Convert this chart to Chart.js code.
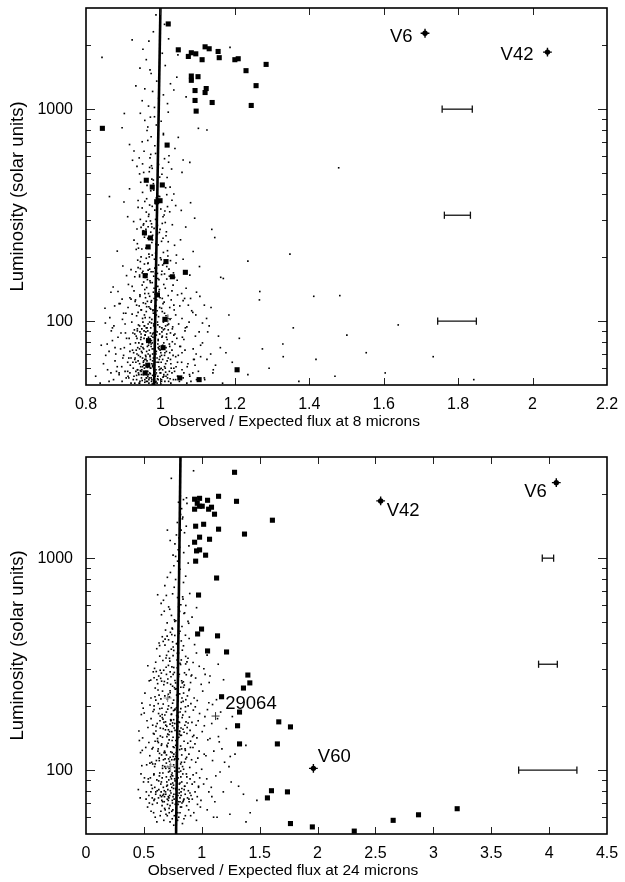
<!DOCTYPE html>
<html><head><meta charset="utf-8">
<script src="https://cdn.jsdelivr.net/npm/chart.js@4.4.1/dist/chart.umd.min.js"></script>
<style>
html,body{margin:0;padding:0;background:#fff;}
#wrap{position:relative;width:625px;height:882px;overflow:hidden;background:#fff;}
canvas{position:absolute;left:0;}
</style></head><body>
<div id="wrap">
<canvas id="c1" width="625" height="441" style="top:0px"></canvas>
<canvas id="c2" width="625" height="441" style="top:449px"></canvas>
</div>
<script>
// ================= DATA : 8 micron panel =================
const xTicks8 = [0.8,1.0,1.2,1.4,1.6,1.8,2.0,2.2];
const yTickLabels = [100,1000];
const yMinorTicks = [60,70,80,90,200,300,400,500,600,700,800,900,2000];
// fitted relation (flux ratio, luminosity)
const fit8X = [0.983,1.000];
const fit8L = [50,3000];
// named / highlighted stars
const stars8Name = ['V6','V42'];
const stars8X = [1.711,2.040];
const stars8L = [2280,1858];
// representative error bars
const err8L  = [1000,316,100];
const err8Lo = [1.757,1.763,1.745];
const err8Hi = [1.838,1.833,1.849];
// other markers
const plus8 = [[1.020,103]];
// filled squares (ratio, luminosity)
const squares8 = [
[1.021,2523],[1.048,1905],[1.083,1845],[1.095,1824],[1.075,1773],[1.120,1968],[1.131,1927],[1.155,1871],
[1.112,1711],[1.158,1749],[1.200,1711],[1.209,1729],[1.284,1626],[1.230,1519],[1.257,1291],[1.083,1433],
[1.083,1368],[1.101,1423],[1.123,1251],[1.120,1198],[1.093,1224],[1.093,1099],[1.139,1075],[1.244,1041],
[1.096,979],[0.844,812],[1.018,677],[0.962,462],[0.978,429],[1.005,439],[0.990,366],[0.999,370],
[0.957,261],[0.973,247],[0.967,224],[1.015,191],[0.959,164],[1.032,162],[1.067,170],[0.992,133],
[1.012,102],[0.968,81],[1.007,75],[0.966,62],[0.959,57],[1.206,59],[1.052,54],[1.104,53]
];
// small dots: comparison sample (ratio, luminosity)
const dots8 = [
[0.931,51],[0.987,56],[0.874,53],[1.013,60],[0.962,52],[1.046,55],[0.905,58],[0.978,50.5],[0.996,61],[0.949,54],
[1.071,51],[0.918,57],[0.984,53],[1.024,58],[0.957,60],[0.826,55],[1.003,52],[0.971,57],[0.939,59],[1.118,54],
[0.991,51],[0.966,55],[1.035,53],[0.897,52],[0.952,61],[1.009,56],[0.982,59],[0.944,51],[1.058,59],[0.975,54],
[0.913,55],[0.999,57],[1.167,51],[0.961,58],[1.019,54],[0.988,52],[0.927,60],[1.087,57],[0.969,51],[0.858,59],
[1.042,61],[0.954,56],[0.993,55],[0.936,53],[1.006,59],[1.235,56],[0.979,61],[0.948,58],[1.028,51],[0.889,57],
[0.973,60],[1.097,53],[0.958,53],[1.015,55],[0.985,58],[0.921,51],[1.061,54],[1.372,52],[0.994,53],[0.942,56],
[1.031,57],[0.968,56],[1.142,59],[0.908,54],[1.001,50.6],[0.976,52],[1.604,57],[0.950,59],[1.051,52],[0.986,55],
[1.292,60],[0.963,54],[1.842,53],[1.022,52],[0.934,58],[0.997,59],[1.469,55],[0.981,50.8],[1.078,56],[0.945,52],
[0.944,63],[0.991,67],[0.862,72],[1.018,65],[0.967,70],[1.052,76],[0.912,64],[0.983,74],[1.003,69],[0.951,78],
[1.089,66],[0.928,71],[0.977,63],[1.031,73],[0.958,66],[0.841,77],[1.009,79],[0.972,68],[0.939,75],[1.135,70],
[0.995,64],[0.963,72],[1.041,68],[0.901,69],[0.954,64],[1.012,71],[0.986,77],[0.946,68],[1.066,73],[0.979,65],
[0.919,78],[0.999,73],[1.193,64],[0.965,76],[1.025,76],[0.988,70],[0.931,66],[1.108,77],[0.969,79],[0.878,65],
[1.046,64],[0.955,74],[0.993,78],[0.937,70],[1.006,66],[1.274,74],[0.981,67],[0.949,72],[1.034,69],[0.893,74],
[0.975,76],[1.074,63],[0.960,69],[1.015,75],[0.984,62],[0.925,73],[1.058,71],[1.418,66],[0.997,76],[0.942,79],
[1.028,63],[0.970,73],[1.161,75],[0.915,67],[1.002,64],[0.978,79],[1.553,71],[0.952,67],[1.039,78],[0.989,72],
[1.329,78],[0.964,65],[1.733,68],[1.021,67],[0.934,64],
[0.947,82],[0.989,86],[0.871,93],[1.016,84],[0.966,90],[1.049,97],[0.916,83],[0.982,95],[1.004,89],[0.953,99],
[1.094,85],[0.930,91],[0.976,81],[1.033,94],[0.959,86],[0.852,98],[1.011,92],[0.973,88],[0.941,96],[1.127,89],
[0.994,82],[0.962,93],[1.039,87],[0.906,88],[0.956,83],[1.008,91],[0.985,98],[0.948,87],[1.071,94],[0.980,84],
[0.923,99],[0.998,94],[1.212,83],[0.967,97],[1.022,97],[0.987,90],[0.935,85],[1.113,98],[0.970,81],[0.886,84],
[1.044,83],[0.957,95],[0.992,99],[0.938,90],[1.005,85],[1.357,93],[0.979,87],[0.950,92],[1.027,88],[1.639,96],
[0.974,93],[1.063,82],[0.961,89],[1.501,86],[1.014,95],
[0.952,103],[0.991,112],[0.889,121],[1.015,106],[0.969,117],[1.046,133],[0.924,108],[0.983,128],[1.003,115],[0.958,141],
[1.087,110],[0.936,119],[0.977,102],[1.029,126],[0.962,111],[0.867,137],[1.010,123],[0.974,114],[0.945,131],[1.118,119],
[0.995,105],[0.965,124],[1.037,113],[0.913,116],[0.957,107],[1.007,121],[0.986,134],[0.949,113],[1.065,128],[0.981,109],
[0.929,139],[0.999,129],[1.184,107],[0.968,135],[1.021,132],[0.988,118],[0.940,110],[1.097,137],[0.971,104],[0.901,109],
[1.041,107],[0.960,129],[0.993,146],[0.943,118],[1.005,111],[1.266,126],[0.980,113],[0.954,122],[1.025,116],[0.897,127],
[0.976,125],[1.058,103],[0.963,117],[1.013,143],[0.985,101],[0.933,126],[1.052,118],[1.412,131],[0.996,138],[1.034,148],
[0.955,153],[0.992,168],[0.899,182],[1.017,158],[0.971,176],[1.043,205],[0.931,162],[0.984,196],[1.004,172],[0.961,221],
[1.079,165],[0.940,179],[0.978,152],[1.027,193],[0.964,166],[0.884,214],[1.009,187],[0.975,171],[0.948,201],[1.105,181],
[0.996,157],[0.967,188],[1.035,169],[0.921,175],[0.959,161],[1.006,184],[0.987,209],[0.951,169],[1.061,196],[0.982,163],
[0.935,218],[1.000,199],[1.162,161],[0.969,207],[1.020,203],[0.989,178],[0.944,165],[1.088,213],[0.972,155],[0.909,164],
[1.038,161],[0.962,198],[0.994,229],[0.946,177],[1.011,167],[1.235,192],[0.980,171],[0.957,186],[1.023,176],[1.348,207],
[0.977,235],[1.054,242],[0.966,246],[1.003,238],[0.938,232],
[0.958,256],[0.992,283],[0.912,311],[1.016,264],[0.973,297],[1.041,351],[0.937,272],[0.985,334],[1.005,289],[0.963,378],
[1.068,278],[0.946,302],[0.979,254],[1.025,328],[0.967,279],[0.902,365],[1.010,317],[0.976,288],[0.951,342],[1.092,306],
[0.997,262],[0.969,319],[1.032,285],[0.928,295],[0.961,271],[1.007,311],[0.988,358],[0.954,284],[1.056,333],[0.983,274],
[0.940,371],[1.001,338],[1.138,271],[0.971,353],[1.019,347],[0.990,302],[0.948,277],[1.081,362],[0.974,412],[0.917,421],
[1.036,398],[0.964,437],[0.995,389],[1.014,426],[0.981,445],
[0.963,458],[0.993,512],[0.925,574],[1.018,476],[0.976,541],[1.039,652],[0.944,495],[0.987,618],[1.006,527],[0.966,712],
[1.058,503],[0.952,552],[0.981,463],[1.023,603],[0.970,507],[0.917,681],[1.011,584],[0.978,526],[0.956,633],[1.079,561],
[0.998,478],[0.972,589],[1.030,522],[0.937,537],[0.964,793],[1.008,768],[0.989,842],[0.958,885],[1.048,736],[0.984,921],
[0.946,956],[1.002,877],[1.102,812],[0.975,741],[1.021,968],
[0.968,1034],[0.995,1124],[0.934,1287],[1.019,1062],[0.979,1212],[1.044,1415],[0.951,1096],[0.990,1356],[1.008,1168],[0.972,1532],
[1.069,1143],[0.958,1247],[0.984,1019],[1.027,1318],[0.975,1473],[1.013,1606],[0.962,1712],[1.036,1231],[1.005,1835],[0.945,1562],
[1.087,1376],[0.999,1967],[1.022,2146],[0.981,2318],[1.114,1689],[0.953,1918],[1.011,2512],[0.988,2785],[1.047,1802],[0.969,2093],
[0.924,2123],[0.843,1755],[1.187,1955],[1.479,529],[1.125,797],[0.897,817],[0.903,954],[1.061,576],[0.929,635],[0.863,387],
[1.482,132],[1.267,138],[1.146,248],[1.169,159],[1.330,68],
[0.958,57],[0.983,63],[0.941,69],[1.012,52],[0.972,81],[0.996,74],[0.929,55],[1.027,66],[0.964,93],[0.988,59],
[0.951,71],[1.004,84],[0.977,53],[0.919,62],[1.038,58],[0.968,77],[0.993,96],[0.943,51],[1.016,72],[0.981,88],
[0.955,65],[1.009,55],[0.974,60],[0.937,83],[0.999,68],[0.962,54],[1.021,91],[0.986,79],[0.947,61],[1.048,69],
[0.971,99],[0.953,75],[1.001,57],[0.979,70],[0.926,88],[1.032,80],[0.966,58],[0.991,64],[0.944,95],[1.011,61],
[0.959,86],[0.984,51],[0.935,73],[1.019,96],[0.973,66],[0.998,87],[0.949,56],[1.006,77],[0.969,62],[0.921,67],
[1.041,53],[0.987,72],[0.956,90],[1.002,60],[0.976,85],[0.938,59],[1.025,71],[0.965,52],[0.994,81],[0.952,78],
[0.982,97],[1.014,63],[0.945,89],[0.970,54],[1.036,86],[0.961,68],[0.989,57],[0.933,79],[1.008,99],[0.978,74],
[0.957,62],[1.003,53],[0.972,69],[0.940,65],[1.018,82],[0.985,92],[0.963,56],[0.997,66],[0.948,84],[1.029,60],
[0.912,58],[1.057,64],[0.903,75],[1.066,90],[0.896,61],[1.079,55],[0.880,70],[1.093,62],[0.867,57],[1.108,68],
[0.959,104],[0.986,118],[0.945,133],[1.011,109],[0.973,152],[0.997,141],[0.932,124],[1.024,163],[0.966,187],[0.989,107],
[0.953,172],[1.005,128],[0.978,205],[0.924,146],[1.036,119],[0.969,226],[0.993,159],[0.948,113],[1.017,181],[0.981,137],
[0.957,249],[1.008,211],[0.975,123],[0.939,194],[0.999,271],[0.963,144],[1.021,237],[0.987,168],[0.950,219],[1.045,156],
[0.971,131],[0.955,288],[1.002,195],[0.980,112],[0.929,241],[1.031,139],[0.967,174],[0.992,258],[0.944,162],[1.013,292],
[0.960,121],[0.985,178],[0.936,106],[1.019,215],[0.974,263],[0.998,116],[0.951,148],[1.007,246],[0.970,201],[0.918,129],
[1.042,188],[0.988,231],[0.958,135],[1.003,166],[0.977,278],[0.941,221],[1.026,102],[0.965,157],[0.995,184],[0.954,267],
[0.983,143],[1.015,253],[0.946,191],[0.972,115],[1.038,228],[0.962,296],[0.990,126],[0.934,171],[1.009,149],[0.979,242],
[0.968,312],[0.991,356],[0.952,405],[1.012,331],[0.977,468],[0.998,387],[0.940,344],[1.026,429],[0.971,531],[0.987,302],
[0.958,367],[1.004,493],[0.982,415],[0.947,452],[1.031,372],[0.974,612],[0.995,548],[0.962,327],[1.017,395],[0.985,672],
[0.955,503],[1.008,757],[0.978,348],[0.943,589],[1.001,436],[0.966,824],[1.022,562],[0.989,381],[0.951,702],[0.973,917],
[0.862,52],[1.102,58],[0.884,61],[1.125,66],[0.853,69],[1.088,74],[0.871,81],[1.141,57],[0.894,88],[1.067,93],
[0.847,63],[1.113,79],[0.905,97],[1.082,52],[0.878,75],[1.156,85],[0.915,54],[1.072,61],[0.868,90],[1.096,70],
[0.889,56],[1.131,95],[0.899,67],[1.059,84],[0.857,78],[1.119,53],[0.926,64],[1.077,99],[0.882,58],[1.104,89],
[0.918,72],[1.063,57],[0.875,95],[1.148,62],[0.909,83],[1.091,66],[0.838,51],[1.054,76],[0.931,87],[1.176,71],
[0.864,104],[1.084,112],[0.892,121],[1.106,131],[0.877,118],[1.069,143],[0.907,109],[1.124,103],[0.886,138],[1.061,125],
[0.851,115],[1.095,107],[0.921,127],[1.075,119],[0.873,145],[1.136,116],[0.898,102],[1.057,135],[0.914,149],[1.081,128],
[0.951,52.5],[0.973,56.5],[0.992,53.5],[1.014,57.5],[0.936,55.5],[0.965,60.5],[0.987,51.5],[1.007,54.5],[0.946,58.5],[0.979,55.5],
[1.026,53.5],[0.958,51.5],[0.999,59.5],[0.969,53],[0.941,57],[1.019,56],[0.982,60],[0.955,62],[1.036,60],[0.927,53],
[0.961,66],[0.985,64],[1.001,71],[0.944,74],[0.975,78],[1.011,69],[0.932,67],[0.968,84],[0.991,89],[1.024,78],
[0.957,95],[0.979,62],[1.004,93],[0.948,76],[0.976,98],[1.032,92],[0.938,92],[0.963,81],[0.994,75],[1.017,87]
];

// ================= DATA : 24 micron panel =================
const xTicks24 = [0,0.5,1,1.5,2,2.5,3,3.5,4,4.5];
const fit24X = [0.778,0.816];
const fit24L = [50,3000];
const stars24Name = ['V6','V42','V60'];
const stars24X = [4.062,2.545,1.964];
const stars24L = [2270,1862,102];
const err24L  = [1000,316,100];
const err24Lo = [3.941,3.909,3.737];
const err24Hi = [4.039,4.071,4.240];
const plus24Name = ['29064'];
const plus24 = [[1.119,180]];
const plusGrey24 = [[0.705,219],[0.731,104]];
const squares24 = [
[1.283,2541],[1.145,1958],[1.300,1854],[0.938,1897],[0.981,1915],[0.961,1815],[1.050,1875],[0.938,1702],
[0.981,1758],[1.004,1758],[1.084,1739],[1.059,1702],[1.110,1612],[1.610,1510],[0.947,1415],[1.016,1445],
[1.145,1370],[1.369,1299],[0.981,1256],[1.067,1228],[0.938,1189],[0.955,1082],[0.981,1094],[1.033,1033],
[0.947,968],[1.128,806],[0.972,670],[0.998,463],[0.964,439],[1.136,430],[1.050,365],[1.214,361],
[1.398,281],[1.415,258],[1.360,244],[1.171,222],[1.326,188],[1.665,169],[1.766,160],[1.309,162],
[1.326,133],[1.653,133],[1.602,80],[1.567,74],[1.740,79],[1.766,56],[1.955,54],
[2.317,51.6],[2.653,58],[2.872,61.6],[3.206,65.8]
];
const dots24 = [
[0.612,57],[0.745,59],[0.833,56],[0.691,62],[0.904,61],[0.562,64],[0.778,66],[0.954,58],[0.657,68],[0.812,63],
[0.726,57],[1.047,65],[0.598,60],[0.869,68],[0.763,61],[0.684,65],[0.931,63],[0.795,69],[0.532,67],[0.719,63],
[1.132,60],[0.846,59],[0.641,61],[0.988,67],[0.758,55],[1.243,62],[0.704,69],[0.887,65],[0.672,58],[0.801,60],
[1.382,57],[0.574,69],[0.825,67],[0.741,64],[0.963,69],
[0.587,72],[0.734,78],[0.812,74],[0.668,83],[0.891,71],[0.543,76],[0.769,89],[0.942,79],[0.626,74],[0.805,81],
[0.711,72],[1.016,86],[0.573,82],[0.857,77],[0.752,75],[0.649,79],[0.918,73],[0.786,94],[0.497,88],[0.703,85],
[1.087,75],[0.838,71],[0.612,90],[0.972,83],[0.747,70],[1.186,79],[0.689,77],[0.873,87],[0.655,72],[0.794,76],
[1.318,84],[0.561,79],[0.819,93],[0.728,80],[0.953,97],[0.452,81],[0.678,75],[0.761,73],[0.884,80],[0.602,77],
[0.738,91],[0.829,70],[0.646,86],[0.907,76],[0.519,73],[0.774,82],[0.993,72],[0.694,93],[0.851,84],[0.586,95],
[0.716,74],[1.043,91],[0.629,81],[0.799,71],[0.867,96],[0.663,76],[0.937,88],[0.756,85],[0.538,91],[0.713,98],
[1.121,94],[0.821,79],[0.592,73],[0.778,77],[0.899,91],[0.637,97],[1.476,72],[0.749,94],[0.812,87],[0.676,71],
[0.961,75],[0.565,85],[0.803,98],[0.722,76],[0.846,73],[0.615,80],[1.254,88],[0.784,72],[0.698,88],[0.925,95],
[0.475,96],[0.741,83],[1.061,79],[0.658,92],[0.877,74],[0.768,99],[0.547,70],[0.828,82],[0.707,81],[0.982,92],
[0.593,104],[0.741,112],[0.818,107],[0.674,121],[0.896,103],[0.551,117],[0.775,131],[0.948,109],[0.632,114],[0.809,125],
[0.718,102],[1.021,119],[0.579,128],[0.861,113],[0.757,106],[0.653,118],[0.924,128],[0.791,141],[0.486,124],[0.709,134],
[1.093,111],[0.843,101],[0.618,137],[0.977,123],[0.753,116],[1.174,126],[0.694,108],[0.879,134],[0.662,105],[0.797,113],
[1.287,119],[0.567,109],[0.824,146],[0.732,122],[0.958,142],[0.461,138],[0.683,113],[0.765,103],[0.889,119],[0.608,111],
[0.744,138],[0.834,104],[0.651,131],[0.912,112],[0.524,106],[0.779,121],[0.999,101],[0.699,144],[0.856,126],[0.589,148],
[0.721,110],[1.052,139],[0.635,120],[0.804,102],[0.872,149],[0.669,112],[0.941,133],[0.761,128],[0.543,135],[0.716,147],
[1.144,144],[0.827,118],[0.598,107],[0.783,115],[0.903,137],[0.642,145],[1.381,131],[0.752,143],[0.817,130],[0.681,104],
[0.966,114],[0.571,126],[0.806,148],[0.727,115],[0.851,109],[0.621,123],[1.235,104],[0.788,107],[0.702,129],[0.931,146],
[0.604,153],[0.748,167],[0.821,158],[0.681,182],[0.899,154],[0.562,175],[0.781,197],[0.951,163],[0.639,171],[0.813,188],
[0.722,152],[1.027,179],[0.588,193],[0.864,169],[0.761,158],[0.659,177],[0.927,192],[0.795,212],[0.503,186],[0.713,201],
[1.086,166],[0.847,151],[0.624,206],[0.981,185],[0.757,173],[1.163,188],[0.698,161],[0.882,201],[0.667,157],[0.801,169],
[1.264,179],[0.576,163],[0.829,219],[0.737,183],[0.961,213],[0.483,207],[0.687,169],[0.769,154],[0.893,178],[0.615,166],
[0.748,207],[0.838,156],[0.656,196],[0.915,168],[0.535,159],[0.783,181],[1.004,152],[0.703,216],[0.859,189],[0.596,222],
[0.726,165],[1.061,208],[0.641,180],[0.808,153],[0.876,224],[0.673,168],[0.944,199],[0.765,192],[0.553,203],[0.719,221],
[1.127,215],[0.831,177],[0.605,161],[0.787,172],[0.906,206],[0.647,217],[0.757,214],[0.819,195],[0.686,155],[0.969,171],
[0.579,189],[0.809,229],[0.731,173],[0.854,163],[0.627,185],[1.212,157],[0.792,161],[0.706,194],[0.934,219],[0.771,241],
[0.661,236],[0.842,246],[0.727,232],[0.889,238],[0.598,244],
[0.619,256],[0.753,283],[0.826,264],[0.692,306],[0.903,259],[0.581,291],[0.786,331],[0.947,272],[0.651,287],[0.817,315],
[0.731,254],[1.018,301],[0.602,323],[0.866,282],[0.768,265],[0.671,296],[0.925,322],[0.799,357],[0.534,311],[0.721,337],
[1.071,278],[0.849,252],[0.637,345],[0.978,309],[0.763,289],[1.142,316],[0.707,269],[0.881,337],[0.677,262],[0.806,283],
[0.588,273],[0.832,368],[0.742,307],[0.954,357],[0.695,283],[0.774,258],[0.891,298],[0.628,278],[0.752,347],[0.841,261],
[0.664,329],[0.913,281],[0.559,266],[0.788,304],[0.995,254],[0.712,363],[0.861,317],[0.611,374],[0.734,276],[1.046,349],
[0.786,395],[0.713,412],[0.842,386],[0.659,426],[0.804,441],[0.748,403],[0.891,418],[0.682,389],[0.767,432],[0.823,407],
[0.631,398],[0.938,391],[0.729,447],[0.859,433],
[0.687,458],[0.764,512],[0.829,476],[0.723,574],[0.881,503],[0.652,541],[0.791,652],[0.916,527],[0.701,495],[0.819,603],
[0.747,463],[0.955,584],[0.669,633],[0.852,552],[0.776,507],[0.714,589],[0.896,681],[0.803,712],[0.738,537],[0.842,768],
[0.681,742],[0.774,793],[0.861,822],[0.729,856],[0.812,887],[0.759,921],[0.703,812],[0.883,948],[0.791,968],[0.838,641],
[0.748,679],[0.809,561],[0.762,729],[0.862,598],[0.694,667],
[0.752,1034],[0.809,1124],[0.781,1287],[0.844,1062],[0.727,1212],[0.866,1415],[0.796,1096],[0.821,1356],[0.768,1168],[0.833,1532],
[0.889,1143],[0.803,1247],[0.774,1019],[0.851,1318],[0.789,1473],[0.817,1606],[0.826,1712],[0.872,1812],[0.799,1835],[0.836,1562],
[0.815,1967],[0.868,1926],[0.842,1889],[0.811,2112],[0.703,1356],
[0.929,2583],[0.737,2379],[1.188,267],[1.246,116],[1.360,77],[1.418,63],[1.102,60],[0.972,84],
[0.702,73],[0.776,81],[0.651,88],[0.821,76],[0.739,95],[0.615,70],[0.854,84],[0.687,79],[0.795,92],[0.572,74],
[0.733,86],[0.898,78],[0.664,97],[0.812,71],[0.756,82],[0.628,89],[0.871,93],[0.711,75],[0.789,87],[0.594,83],
[0.745,72],[0.836,96],[0.676,80],[0.766,91],[0.642,76],[0.917,86],[0.723,99],[0.805,78],[0.556,92],[0.781,74],
[0.697,84],[0.848,81],[0.634,94],[0.759,77],[0.889,73],[0.715,90],[0.662,71],[0.827,88],[0.744,97],[0.603,79],
[0.679,66],[0.793,63],[0.726,68],[0.858,61],[0.647,64],[0.771,69],[0.702,61],[0.816,67],[0.584,63],[0.750,65],
[0.705,104],[0.781,118],[0.654,133],[0.824,109],[0.741,152],[0.618,141],[0.858,124],[0.689,163],[0.798,187],[0.576,107],
[0.736,172],[0.902,128],[0.667,205],[0.815,146],[0.759,119],[0.631,226],[0.874,159],[0.714,113],[0.792,181],[0.597,137],
[0.748,249],[0.839,211],[0.679,123],[0.769,194],[0.645,271],[0.921,144],[0.726,237],[0.808,168],[0.561,219],[0.784,156],
[0.699,131],[0.851,288],[0.637,195],[0.762,112],[0.893,241],[0.718,139],[0.665,174],[0.831,258],[0.747,162],[0.607,292],
[0.683,121],[0.797,178],[0.729,106],[0.862,215],[0.653,263],[0.774,116],[0.706,148],[0.819,246],[0.588,201],[0.753,129],
[0.694,188],[0.843,231],[0.625,135],[0.767,166],[0.908,278],[0.721,221],[0.661,102],[0.787,157],[0.739,184],[0.612,267],
[0.802,143],[0.672,253],[0.756,191],[0.869,115],[0.711,228],[0.641,296],[0.826,126],[0.733,171],[0.582,149],[0.779,242],
[0.712,312],[0.789,356],[0.667,405],[0.823,331],[0.744,468],[0.636,387],[0.861,344],[0.701,429],[0.802,531],[0.592,302],
[0.758,367],[0.887,493],[0.683,415],[0.812,452],[0.737,372],[0.649,612],[0.846,548],[0.724,327],[0.781,395],[0.619,672],
[0.767,503],[0.835,657],[0.696,348],[0.799,589],[0.741,436],[0.872,324],[0.676,562],[0.753,381],
[0.468,74],[1.082,83],[0.505,92],[1.113,71],[0.482,105],[1.036,117],[0.516,128],[1.158,98],[0.457,153],[1.071,141],
[0.527,171],[1.104,123],[0.494,196],[1.022,162],[0.538,88],[1.197,109],[0.471,121],[1.049,193],[0.509,231],[1.136,175],
[0.546,264],[1.008,236],[0.521,79],[1.064,259],[0.489,142],[1.093,204],[0.552,108],[1.029,283],[0.478,183],[1.151,136],
[0.652,75],[0.731,93],[0.806,86],[0.689,102],[0.768,113],[0.624,126],[0.847,137],[0.712,155],[0.785,164],[0.658,183],
[0.737,197],[0.823,209],[0.681,224],[0.764,245],[0.603,214],[0.799,276],[0.727,291],[0.859,199],[0.642,158],[0.776,138],
[0.695,118],[0.818,99],[0.749,87],[0.587,96],[0.671,77],[0.842,72],[0.718,66],[0.791,58],[0.633,111],[0.882,167],
[0.744,121],[0.809,152],[0.661,143],[0.783,226],[0.703,258],[0.836,182],[0.622,239],[0.758,305],[0.691,338],[0.812,319]
];

// ================= RENDERING =================
const FONT = '"Liberation Sans", Arial, Helvetica, sans-serif';
Chart.defaults.font.family = FONT;
Chart.defaults.color = '#000';

const toXY = arr => arr.map(p => ({x:p[0], y:p[1]}));
const zipXY = (xs, ys) => xs.map((v,i) => ({x:v, y:ys[i]}));

const decor = {
  id: 'decor',
  afterDatasetsDraw(chart, args, o) {
    const {ctx, chartArea: a, scales: {x, y}} = chart;
    ctx.save();
    ctx.strokeStyle = '#222';
    ctx.lineWidth = 1;
    ctx.beginPath();
    o.xMajor.forEach(v => {
      const px = Math.round(x.getPixelForValue(v)) + 0.5;
      if (px <= a.left + 2 || px >= a.right - 2) return;
      ctx.moveTo(px, a.bottom); ctx.lineTo(px, a.bottom - 7);
      ctx.moveTo(px, a.top); ctx.lineTo(px, a.top + 7);
    });
    const yt = (v, len) => {
      const py = Math.round(y.getPixelForValue(v)) + 0.5;
      ctx.moveTo(a.left, py); ctx.lineTo(a.left + len, py);
      ctx.moveTo(a.right, py); ctx.lineTo(a.right - len, py);
    };
    o.yMajor.forEach(v => yt(v, 9));
    o.yMinor.forEach(v => yt(v, 5));
    ctx.stroke();
    ctx.strokeStyle = '#000';
    ctx.lineWidth = 1.6;
    ctx.strokeRect(a.left, a.top, a.right - a.left, a.bottom - a.top);
    // point labels
    ctx.fillStyle = '#000';
    ctx.textBaseline = 'middle';
    ctx.font = '18.5px ' + FONT;
    o.labels.forEach(l => {
      ctx.textAlign = l.align;
      ctx.fillText(l.text, x.getPixelForValue(l.x) + l.dx, y.getPixelForValue(l.y) + l.dy);
    });
    // x axis title
    ctx.font = '15.5px ' + FONT;
    ctx.textAlign = 'center';
    ctx.fillText(o.xTitle, o.xTitleX, a.bottom + 36.5);
    ctx.restore();
  }
};

function errDatasets(lo, hi, L) {
  return L.map((v, i) => ({
    data: [{x: lo[i], y: v}, {x: hi[i], y: v}],
    showLine: true, borderColor: '#111', borderWidth: 1.3,
    pointStyle: 'line', rotation: 90, pointRadius: 3.6, pointBorderWidth: 1.3,
    pointBorderColor: '#111', order: 1
  }));
}

function makeChart(id, c) {
  const datasets = [
    {data: toXY(c.squares), pointStyle: 'rect', pointRadius: 3.6, backgroundColor: '#000', borderWidth: 0, order: 0},
    {data: zipXY(c.starX, c.starL), pointStyle: 'circle', pointRadius: 2.7, backgroundColor: '#000', borderWidth: 0, order: 0},
    {data: zipXY(c.starX, c.starL), pointStyle: 'cross', pointRadius: 4.4, borderColor: '#000', pointBorderWidth: 1.4, order: 0},
    {data: toXY(c.plus), pointStyle: 'cross', pointRadius: 4, borderColor: '#333', pointBorderWidth: 1, order: 0},
    {data: toXY(c.plusGrey), pointStyle: 'cross', pointRadius: 4, borderColor: '#888', pointBorderWidth: 1, order: 0},
    ...errDatasets(c.errLo, c.errHi, c.errL),
    {data: zipXY(c.fitX, c.fitL), showLine: true, borderColor: '#000', borderWidth: 2.6, pointRadius: 0, order: 2},
    {data: toXY(c.dots), pointStyle: 'rect', pointRadius: 1.15, backgroundColor: '#000', borderWidth: 0, order: 3}
  ];
  return new Chart(document.getElementById(id), {
    type: 'scatter',
    data: {datasets},
    options: {
      responsive: false, animation: false, events: [],
      layout: {autoPadding: false, padding: {top: 8, right: 18, bottom: 10, left: 0}},
      plugins: {
        legend: {display: false}, tooltip: {enabled: false},
        decor: {xMajor: c.xTicks, yMajor: yTickLabels, yMinor: yMinorTicks,
                labels: c.labels, xTitle: c.xTitle, xTitleX: c.xTitleX}
      },
      scales: {
        x: {
          type: 'linear', min: c.xMin, max: c.xMax,
          afterBuildTicks: s => { s.ticks = c.xTicks.map(v => ({value: v})); },
          afterFit: s => { s.height = 46; s.paddingLeft = 0; s.paddingRight = 0; },
          grid: {display: false, drawTicks: false}, border: {display: false},
          ticks: {padding: 10, font: {size: 16}, maxRotation: 0, autoSkip: false,
                  callback: v => String(+v.toFixed(2))}
        },
        y: {
          type: 'logarithmic', min: 50, max: 3000,
          afterBuildTicks: s => { s.ticks = yTickLabels.map(v => ({value: v})); },
          afterFit: s => { s.width = 86; s.paddingTop = 0; s.paddingBottom = 0; },
          grid: {display: false, drawTicks: false}, border: {display: false},
          ticks: {padding: 13, font: {size: 16}, autoSkip: false, callback: v => String(v)},
          title: {display: true, text: 'Luminosity (solar units)', font: {size: 18.5}, padding: {top: 7, bottom: 0}}
        }
      }
    },
    plugins: [decor]
  });
}

makeChart('c1', {
  squares: squares8, dots: dots8, starX: stars8X, starL: stars8L,
  plus: plus8, plusGrey: [],
  errLo: err8Lo, errHi: err8Hi, errL: err8L, fitX: fit8X, fitL: fit8L,
  xMin: 0.8, xMax: 2.2, xTicks: xTicks8,
  xTitle: 'Observed / Expected flux at 8 microns', xTitleX: 289,
  labels: [
    {text: stars8Name[0], x: stars8X[0], y: stars8L[0], dx: -12.5, dy: 4, align: 'right'},
    {text: stars8Name[1], x: stars8X[1], y: stars8L[1], dx: -14, dy: 3, align: 'right'}
  ]
});

makeChart('c2', {
  squares: squares24, dots: dots24, starX: stars24X, starL: stars24L,
  plus: plus24, plusGrey: plusGrey24,
  errLo: err24Lo, errHi: err24Hi, errL: err24L, fitX: fit24X, fitL: fit24L,
  xMin: 0, xMax: 4.5, xTicks: xTicks24,
  xTitle: 'Observed / Expected flux at 24 microns', xTitleX: 283,
  labels: [
    {text: stars24Name[0], x: stars24X[0], y: stars24L[0], dx: -9.4, dy: 9, align: 'right'},
    {text: stars24Name[1], x: stars24X[1], y: stars24L[1], dx: 6, dy: 10, align: 'left'},
    {text: stars24Name[2], x: stars24X[2], y: stars24L[2], dx: 4.4, dy: -11, align: 'left'},
    {text: plus24Name[0], x: plus24[0][0], y: plus24[0][1], dx: 9.7, dy: -12, align: 'left'}
  ]
});
</script>
</body></html>
